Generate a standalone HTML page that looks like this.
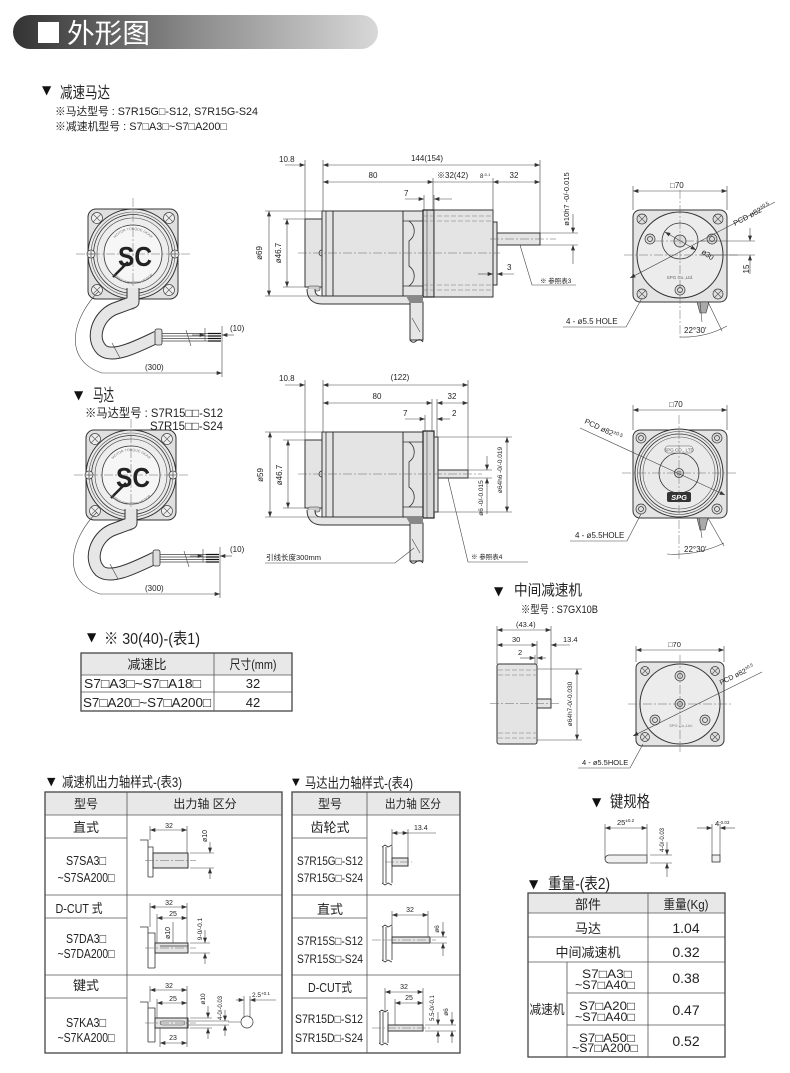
<!DOCTYPE html>
<html><head><meta charset="utf-8"><style>
html,body{margin:0;padding:0;background:#fff}
svg{display:block}
text{font-family:"Liberation Sans","Noto Sans CJK SC",sans-serif;fill:#222}
.tri{font-family:"DejaVu Sans",sans-serif;fill:#111}
.d{stroke:#444;stroke-width:.6;fill:none}
.da{stroke:#444;stroke-width:.6;fill:none;marker-end:url(#ar)}
.db{stroke:#444;stroke-width:.6;fill:none;marker-start:url(#ar);marker-end:url(#ar)}
.cl{stroke:#666;stroke-width:.5;fill:none;stroke-dasharray:9 2 2 2}
.hd{stroke:#777;stroke-width:.6;fill:none;stroke-dasharray:5 2}
.o{stroke:#333;stroke-width:1;fill:#e4e4e4}
.on{stroke:#333;stroke-width:.8;fill:none}
.s{font-size:8px}
.tb{stroke:#444;stroke-width:1.3;fill:none}
.tl{stroke:#555;stroke-width:.8}
</style></head><body>
<svg width="790" height="1073" viewBox="0 0 790 1073" xmlns="http://www.w3.org/2000/svg">
<defs>
<marker id="ar" viewBox="0 0 8 6" refX="8" refY="3" markerWidth="6" markerHeight="4" markerUnits="userSpaceOnUse" orient="auto-start-reverse"><path d="M0,0L8,3L0,6z" fill="#333"/></marker>
<linearGradient id="hg" x1="0" x2="1" y1="0" y2="0"><stop offset="0" stop-color="#333"/><stop offset=".5" stop-color="#8c8c8c"/><stop offset="1" stop-color="#d8d8d8"/></linearGradient>
<path id="arcT" d="M109,254 A24,24 0 0 1 157,254" fill="none"/>
<path id="arcB" d="M106,257 A27,27 0 0 0 160,257" fill="none"/>
</defs>

<!-- HEADER -->
<rect x="13" y="15" width="365" height="34" rx="17" fill="url(#hg)"/>
<rect x="38" y="22" width="21" height="21" fill="#fff"/>
<text x="67" y="43" font-size="27" style="fill:#fff" textLength="83" lengthAdjust="spacingAndGlyphs">外形图</text>

<!-- TOP TITLES -->
<text class="tri" x="42" y="94" font-size="12">▼</text>
<text x="60" y="98" font-size="16" textLength="50" lengthAdjust="spacingAndGlyphs">减速马达</text>
<text x="55" y="115" font-size="11" textLength="203" lengthAdjust="spacingAndGlyphs">※马达型号 : S7R15G□-S12, S7R15G-S24</text>
<text x="55" y="130" font-size="11" textLength="172" lengthAdjust="spacingAndGlyphs">※减速机型号 : S7□A3□~S7□A200□</text>

<!-- FRONT VIEW LEFT (shapes) -->
<g id="fvs">
<rect x="88" y="209" width="90" height="90" rx="8" fill="#e0e0e0" stroke="#333"/>
<g fill="#eee" stroke="#444" stroke-width=".7">
<circle cx="97" cy="218" r="5.5"/><circle cx="169" cy="218" r="5.5"/><circle cx="97" cy="290" r="5.5"/><circle cx="169" cy="290" r="5.5"/>
</g>
<path d="M93,214L101,222M101,214L93,222M165,214L173,222M173,214L165,222M93,286L101,294M101,286L93,294M165,286L173,294M173,286L165,294" stroke="#555" stroke-width=".6"/>
<circle cx="133" cy="254" r="45" fill="#e9e9e9" stroke="#333"/>
<circle cx="133" cy="254" r="42" fill="none" stroke="#555" stroke-width=".6"/>
<circle cx="133" cy="254" r="39.5" fill="none" stroke="#333" stroke-width=".8"/>
<circle cx="133" cy="254" r="36" fill="#ededed" stroke="#444" stroke-width=".6"/>
<circle cx="133" cy="254" r="29" fill="#f6f6f6" stroke="#333" stroke-width=".8"/>
<circle cx="91" cy="254" r="4" fill="#eee" stroke="#333" stroke-width=".7"/>
<circle cx="175" cy="254" r="4" fill="#eee" stroke="#333" stroke-width=".7"/>
<path d="M88,254h6M91,251v6M172,254h6M175,251v6" stroke="#333" stroke-width=".6"/>
<line class="cl" x1="76" y1="254" x2="190" y2="254"/>
<line class="cl" x1="133" y1="198" x2="133" y2="310"/>
<line x1="113" y1="277" x2="128" y2="262" stroke="#222" stroke-width="2.5"/>
</g>
<g id="fcab">
<path d="M133,288 V302 L114,309 C98,316 90,338 102,350 C113,359 138,346 157,337" stroke="#333" stroke-width="13" fill="none" stroke-linejoin="round"/>
<path d="M133,288 V302 L114,309 C98,316 90,338 102,350 C113,359 138,346 157,337" stroke="#e6e6e6" stroke-width="11" fill="none" stroke-linejoin="round"/>
<rect x="155" y="329" width="7" height="16" rx="2" fill="#ddd" stroke="#333" stroke-width=".8"/>
<path d="M162,333.5H220M162,336H220M162,338.5H220M162,341H220" stroke="#444" stroke-width=".7"/>
<path d="M208,333.5H221M208,336H221M208,338.5H221M208,341H221" stroke="#111" stroke-width="1.2"/>
<line class="d" x1="112" y1="343" x2="120" y2="358"/>
<line class="d" x1="186" y1="330" x2="191" y2="346"/>
<path class="da" d="M99,291 C72,318 62,360 102,373 L222,373"/>
<line class="d" x1="222" y1="326" x2="222" y2="377"/>
<line class="d" x1="205" y1="328" x2="205" y2="341"/>
<line class="da" x1="192" y1="335" x2="205" y2="335"/>
<line class="da" x1="234" y1="335" x2="222" y2="335"/>
</g>
<text x="135" y="266" font-size="28" font-weight="bold" text-anchor="middle" textLength="34" lengthAdjust="spacingAndGlyphs">SC</text>
<text font-size="3.6" style="fill:#777"><textPath href="#arcT" startOffset="50%" text-anchor="middle">MOTOR TORQUE GEAR</textPath></text>
<text font-size="3.6" style="fill:#777"><textPath href="#arcB" startOffset="50%" text-anchor="middle">SPEED CONTROL MOTOR</textPath></text>
<text class="s" x="230" y="331">(10)</text>
<text class="s" x="145" y="370">(300)</text>

<!-- TOP SIDE VIEW -->
<g id="body">
<rect class="o" x="305" y="219" width="17" height="68"/>
<path class="on" d="M322,250 a3,3 0 0 0 0,6"/>
<rect class="o" x="322" y="211" width="11" height="85"/>
<line class="on" x1="326" y1="211" x2="326" y2="296" stroke-width=".6"/>
<rect class="o" x="333" y="211" width="70" height="85"/>
<rect class="o" x="403" y="211" width="20" height="85"/>
<path class="on" d="M403,221 H409 C416,226 416,236 409,241 V266 C416,271 416,281 409,286 H403"/>
<path class="on" stroke-width=".6" d="M409,221H423M409,286H423"/>
<rect x="423" y="210" width="11" height="87" fill="#d8d8d8" stroke="#222" stroke-width="1.2"/>
<line x1="427" y1="210" x2="427" y2="297" stroke="#444" stroke-width=".6"/>
</g>
<rect class="o" x="434" y="210" width="59" height="87"/>
<path class="hd" d="M423,216H492M423,221H492M423,285H492M423,290H492"/>
<rect class="o" x="493" y="222" width="4" height="63"/>
<rect class="o" x="497" y="233" width="43" height="12"/>
<line class="cl" x1="298" y1="253" x2="500" y2="253"/>
<line class="cl" x1="490" y1="239" x2="556" y2="239"/>
<g id="scab">
<rect x="308" y="286" width="12" height="5" rx="2" fill="#ccc" stroke="#333" stroke-width=".6"/>
<path d="M311,289 Q311,300 322,300 H413" stroke="#333" stroke-width="9" fill="none"/>
<path d="M311,289 Q311,300 322,300 H413" stroke="#e6e6e6" stroke-width="7" fill="none"/>
<rect x="410" y="302" width="13" height="38" fill="#e6e6e6" stroke="#333"/>
<polygon points="406,296 423,296 423,303 410,303" fill="#888"/>
<path d="M410,340 q3,4 6,1 q4,-3 7,1" fill="none" stroke="#333"/>
<line class="d" x1="412" y1="318" x2="420" y2="332"/>
</g>
<!-- top dims -->
<path class="d" d="M305,160V219M323,160V211M540,160V233M433,178V211M493,178V222M424,195V211M434,195V211"/>
<line class="da" x1="285" y1="165" x2="305" y2="165"/>
<line class="db" x1="323" y1="165" x2="540" y2="165"/>
<text class="s" x="279" y="162">10.8</text>
<text class="s" x="427" y="161" text-anchor="middle">144(154)</text>
<line class="db" x1="323" y1="182" x2="433" y2="182"/>
<line class="d" x1="433" y1="182" x2="493" y2="182"/>
<line class="db" x1="493" y1="182" x2="540" y2="182"/>
<text class="s" x="373" y="178" text-anchor="middle">80</text>
<text class="s" x="437" y="178">※32(42)</text>
<text x="480" y="178" font-size="6">8<tspan font-size="4" dy="-2">-0.1</tspan></text>
<text class="s" x="514" y="178" text-anchor="middle">32</text>
<line class="da" x1="405" y1="199" x2="424" y2="199"/>
<line class="da" x1="452" y1="199" x2="434" y2="199"/>
<text class="s" x="404" y="196">7</text>
<path class="d" d="M265,211H322M265,296H322M283,219H305M283,287H305M540,233H578M540,245H578"/>
<line class="db" x1="269" y1="211" x2="269" y2="296"/>
<line class="db" x1="287" y1="219" x2="287" y2="287"/>
<text class="s" transform="translate(262,253) rotate(-90)" text-anchor="middle">ø69</text>
<text class="s" transform="translate(281,253) rotate(-90)" text-anchor="middle">ø46.7</text>
<line class="da" x1="573" y1="214" x2="573" y2="233"/>
<line class="da" x1="573" y1="264" x2="573" y2="245"/>
<text font-size="7.5" transform="translate(569,199) rotate(-90)" text-anchor="middle">ø10h7 -0/-0.015</text>
<line class="da" x1="478" y1="274" x2="493" y2="274"/>
<line class="da" x1="514" y1="274" x2="497" y2="274"/>
<text class="s" x="507" y="270">3</text>
<polyline class="d" points="520,245 532,285 576,285"/>
<text x="540" y="283" font-size="6.5">※ 参照表3</text>

<!-- TOP RIGHT FRONT VIEW -->
<path class="d" d="M633,186V210M727,186V210"/>
<line class="db" x1="633" y1="191" x2="727" y2="191"/>
<text class="s" x="670" y="188">□70</text>
<rect x="633" y="210" width="94" height="92" rx="7" fill="#e4e4e4" stroke="#333"/>
<circle cx="680" cy="255" r="43" fill="#ececec" stroke="#333"/>
<circle cx="680" cy="241" r="18" fill="none" stroke="#333" stroke-width=".8"/>
<circle cx="680" cy="241" r="6" fill="#ddd" stroke="#333" stroke-width=".8"/>
<g fill="#ddd" stroke="#333" stroke-width=".7">
<circle cx="650" cy="239" r="5"/><circle cx="712" cy="239" r="5"/><circle cx="680" cy="290" r="5"/>
<circle cx="650" cy="239" r="2.5"/><circle cx="712" cy="239" r="2.5"/><circle cx="680" cy="290" r="2.5"/>
<circle cx="642" cy="219" r="5"/><circle cx="718" cy="219" r="5"/><circle cx="642" cy="294" r="5"/><circle cx="718" cy="294" r="5"/>
</g>
<path d="M638,215l8,8M646,215l-8,8M714,215l8,8M722,215l-8,8M638,290l8,8M646,290l-8,8M714,290l8,8M722,290l-8,8" stroke="#555" stroke-width=".6"/>
<line class="cl" x1="680" y1="190" x2="680" y2="340"/>
<line class="cl" x1="624" y1="255" x2="740" y2="255"/>
<line class="cl" x1="655" y1="241" x2="705" y2="241"/>
<line class="da" x1="775" y1="202" x2="630" y2="278"/>
<text x="735" y="226" font-size="7.5" transform="rotate(-28 735 226)">PCD ø82<tspan font-size="5" dy="-3">±0.5</tspan></text>
<line class="db" x1="665" y1="232" x2="696" y2="250"/>
<text x="701" y="253" font-size="7.5" transform="rotate(35 701 253)">ø30</text>
<path class="d" d="M700,241H755M700,255H755"/>
<line class="da" x1="750" y1="228" x2="750" y2="241"/>
<line class="da" x1="750" y1="274" x2="750" y2="255"/>
<text class="s" transform="translate(749,269) rotate(-90)" text-anchor="middle">15</text>
<text x="680" y="279" font-size="4.5" text-anchor="middle" style="fill:#666">SPG Co.,Ltd.</text>
<polygon points="697,302 709,302 706,313 700,313" fill="#aaa" stroke="#333" stroke-width=".6"/>
<path class="d" d="M700,302L702,322M708,302L722,331"/>
<path class="d" d="M680,337 Q705,338 727,326"/>
<text class="s" x="684" y="333">22°30'</text>
<polyline class="d" points="642,298 626,327 563,327"/>
<text class="s" x="566" y="324">4 - ø5.5 HOLE</text>

<!-- MIDDLE SECTION TITLES -->
<text class="tri" x="74" y="399" font-size="12">▼</text>
<text x="93" y="401" font-size="17" textLength="21" lengthAdjust="spacingAndGlyphs">马达</text>
<text x="85" y="417" font-size="12" textLength="138" lengthAdjust="spacingAndGlyphs">※马达型号 : S7R15□□-S12</text>
<text x="150" y="430" font-size="12" textLength="73" lengthAdjust="spacingAndGlyphs">S7R15□□-S24</text>

<!-- MIDDLE LEFT FRONT VIEW -->
<g transform="translate(-2,221)">
<use href="#fvs"/>
<use href="#fcab"/>
<text x="135" y="266" font-size="28" font-weight="bold" text-anchor="middle" textLength="34" lengthAdjust="spacingAndGlyphs">SC</text>
<text font-size="3.6" style="fill:#777"><textPath href="#arcT" startOffset="50%" text-anchor="middle">MOTOR TORQUE GEAR</textPath></text>
<text font-size="3.6" style="fill:#777"><textPath href="#arcB" startOffset="50%" text-anchor="middle">SPEED CONTROL MOTOR</textPath></text>
<text class="s" x="232" y="331">(10)</text>
<text class="s" x="147" y="370">(300)</text>
</g>

<!-- MIDDLE SIDE VIEW -->
<use href="#body" y="221"/>
<rect class="o" x="434" y="437" width="4" height="75"/>
<rect class="o" x="438" y="470" width="30" height="8"/>
<line class="cl" x1="298" y1="474" x2="482" y2="474"/>
<use href="#scab" y="221"/>
<path class="d" d="M305,380V440M323,380V432M468,380V470M432,399V432M437,399V437M425,415V432"/>
<line class="da" x1="285" y1="385" x2="305" y2="385"/>
<line class="db" x1="323" y1="385" x2="468" y2="385"/>
<text class="s" x="279" y="381">10.8</text>
<text class="s" x="400" y="380" text-anchor="middle">(122)</text>
<line class="db" x1="323" y1="403" x2="432" y2="403"/>
<line class="db" x1="437" y1="403" x2="468" y2="403"/>
<text class="s" x="377" y="399" text-anchor="middle">80</text>
<text class="s" x="452" y="399" text-anchor="middle">32</text>
<line class="da" x1="405" y1="419" x2="425" y2="419"/>
<line class="da" x1="450" y1="419" x2="437" y2="419"/>
<text class="s" x="403" y="416">7</text>
<text class="s" x="452" y="416">2</text>
<path class="d" d="M265,432H322M265,517H322M283,440H305M283,508H305"/>
<line class="db" x1="270" y1="432" x2="270" y2="517"/>
<line class="db" x1="288" y1="440" x2="288" y2="508"/>
<text class="s" transform="translate(263,475) rotate(-90)" text-anchor="middle">ø59</text>
<text class="s" transform="translate(282,475) rotate(-90)" text-anchor="middle">ø46.7</text>
<path class="d" d="M468,470H492M468,478H492M437,437H512M437,512H512"/>
<line class="da" x1="487" y1="456" x2="487" y2="470"/>
<line class="da" x1="487" y1="514" x2="487" y2="478"/>
<line class="db" x1="507" y1="437" x2="507" y2="512"/>
<text font-size="6.5" transform="translate(483,498) rotate(-90)" text-anchor="middle">ø6 -0/-0.015</text>
<text font-size="6.5" transform="translate(502,470) rotate(-90)" text-anchor="middle">ø64h6 -0/-0.019</text>
<polyline class="d" points="448,478 468,562 528,562"/>
<text x="471" y="559" font-size="6.5">※ 参照表4</text>
<polyline class="d" points="265,563 395,563 414,548"/>
<text x="266" y="560" font-size="7.5">引线长度300mm</text>

<!-- MIDDLE RIGHT FRONT VIEW -->
<path class="d" d="M633,405V430M727,405V430"/>
<line class="db" x1="633" y1="410" x2="727" y2="410"/>
<text class="s" x="669" y="407">□70</text>
<rect x="633" y="430" width="94" height="88" rx="7" fill="#e4e4e4" stroke="#333"/>
<circle cx="679" cy="473" r="44" fill="#eaeaea" stroke="#333"/>
<circle cx="679" cy="473" r="41.5" fill="none" stroke="#444" stroke-width=".6"/>
<circle cx="679" cy="473" r="39" fill="none" stroke="#333" stroke-width=".8"/>
<circle cx="679" cy="473" r="36" fill="none" stroke="#555" stroke-width=".6"/>
<circle cx="679" cy="473" r="20" fill="#e8e8e8" stroke="#333" stroke-width=".8"/>
<circle cx="679" cy="473" r="4.5" fill="#ddd" stroke="#333" stroke-width=".8"/>
<circle cx="679" cy="473" r="2" fill="none" stroke="#333" stroke-width=".6"/>
<g fill="#ddd" stroke="#333" stroke-width=".7">
<circle cx="641" cy="438" r="5"/><circle cx="717" cy="438" r="5"/><circle cx="641" cy="509" r="5"/><circle cx="717" cy="509" r="5"/>
<circle cx="641" cy="438" r="2.5"/><circle cx="717" cy="438" r="2.5"/><circle cx="641" cy="509" r="2.5"/><circle cx="717" cy="509" r="2.5"/>
</g>
<rect x="665" y="446" width="28" height="7" rx="3" fill="#f2f2f2" stroke="#555" stroke-width=".5"/>
<text x="679" y="451.5" font-size="4.5" text-anchor="middle" style="fill:#555">SPG CO., LTD</text>
<rect x="667" y="492" width="24" height="10" rx="2" fill="#333"/>
<text x="679" y="500" font-size="7.5" font-weight="bold" font-style="italic" text-anchor="middle" style="fill:#fff">SPG</text>
<line class="cl" x1="679" y1="415" x2="679" y2="560"/>
<line class="cl" x1="622" y1="473" x2="737" y2="473"/>
<line class="da" x1="580" y1="428" x2="725" y2="495"/>
<text x="584" y="423" font-size="7.5" transform="rotate(25 584 423)">PCD ø82<tspan font-size="5" dy="-3">±0.5</tspan></text>
<polyline class="d" points="641,514 627,541 570,541"/>
<text class="s" x="575" y="538">4 - ø5.5HOLE</text>
<polygon points="697,518 708,518 705,530 700,530" fill="#aaa" stroke="#333" stroke-width=".6"/>
<path class="d" d="M699,518L702,538M708,518L724,546"/>
<path class="d" d="M667,554 Q697,556 724,543"/>
<text class="s" x="684" y="552">22°30'</text>

<!-- 中间减速机 -->
<text class="tri" x="494" y="595" font-size="12">▼</text>
<text x="514" y="595" font-size="15" textLength="68" lengthAdjust="spacingAndGlyphs">中间减速机</text>
<text x="521" y="613" font-size="11" textLength="77" lengthAdjust="spacingAndGlyphs">※型号 : S7GX10B</text>
<path class="d" d="M497,626V664M551,626V699M537,641V664M535,655V699"/>
<line class="db" x1="497" y1="630" x2="551" y2="630"/>
<text font-size="7.5" x="516" y="627">(43.4)</text>
<line class="db" x1="497" y1="645" x2="537" y2="645"/>
<line class="da" x1="570" y1="645" x2="551" y2="645"/>
<text font-size="7.5" x="512" y="642">30</text>
<text font-size="7.5" x="563" y="642">13.4</text>
<line class="da" x1="520" y1="658" x2="535" y2="658"/>
<line class="da" x1="546" y1="658" x2="537" y2="658"/>
<text font-size="7.5" x="518" y="655">2</text>
<rect class="o" x="497" y="664" width="40" height="80" rx="2"/>
<path class="hd" d="M498,670H536M498,675H536M498,733H536M498,738H536"/>
<rect class="o" x="537" y="699" width="14" height="9"/>
<line class="cl" x1="490" y1="703.5" x2="560" y2="703.5"/>
<path class="d" d="M537,669H582M537,740H582"/>
<line class="db" x1="577" y1="669" x2="577" y2="740"/>
<text font-size="6.5" transform="translate(572,704) rotate(-90)" text-anchor="middle">ø64h7-0/-0.030</text>
<path class="d" d="M636,646V662M724,646V662"/>
<line class="db" x1="636" y1="650" x2="724" y2="650"/>
<text font-size="7.5" x="668" y="647">□70</text>
<rect x="636" y="662" width="88" height="84" rx="6" fill="#e4e4e4" stroke="#333"/>
<circle cx="680" cy="704" r="40" fill="#ececec" stroke="#333"/>
<g fill="#ddd" stroke="#333" stroke-width=".7">
<circle cx="680" cy="676" r="5"/><circle cx="655" cy="720" r="5"/><circle cx="705" cy="720" r="5"/><circle cx="680" cy="704" r="5"/>
<circle cx="680" cy="676" r="2.5"/><circle cx="655" cy="720" r="2.5"/><circle cx="705" cy="720" r="2.5"/><circle cx="680" cy="704" r="2.5"/>
<circle cx="645" cy="671" r="4.5"/><circle cx="715" cy="671" r="4.5"/><circle cx="645" cy="737" r="4.5"/><circle cx="715" cy="737" r="4.5"/>
</g>
<path d="M641.5,667.5l7,7M648.5,667.5l-7,7M711.5,667.5l7,7M718.5,667.5l-7,7M641.5,733.5l7,7M648.5,733.5l-7,7M711.5,733.5l7,7M718.5,733.5l-7,7" stroke="#555" stroke-width=".6"/>
<line class="cl" x1="680" y1="655" x2="680" y2="752"/>
<line class="cl" x1="628" y1="704" x2="732" y2="704"/>
<line class="da" x1="762" y1="672" x2="633" y2="736"/>
<text x="721" y="685" font-size="7" transform="rotate(-26 721 685)">PCD ø82<tspan font-size="4.5" dy="-3">±0.5</tspan></text>
<text x="681" y="727" font-size="4" text-anchor="middle" style="fill:#777">SPG Co.,Ltd.</text>
<polyline class="d" points="643,744 630,768 578,768"/>
<text font-size="7.5" x="582" y="765">4 - ø5.5HOLE</text>

<!-- TABLE 1 -->
<text class="tri" x="87" y="641" font-size="12">▼</text>
<text x="104" y="644" font-size="16" textLength="96" lengthAdjust="spacingAndGlyphs">※ 30(40)-(表1)</text>
<rect x="81" y="653" width="211" height="22" fill="#e8e8e8"/>
<rect class="tb" x="81" y="653" width="211" height="58"/>
<path class="tl" d="M81,675H292M81,692H292M214,653V711"/>
<text x="147" y="669" font-size="13" text-anchor="middle">减速比</text>
<text x="253" y="669" font-size="13" text-anchor="middle" textLength="47" lengthAdjust="spacingAndGlyphs">尺寸(mm)</text>
<text x="84" y="688" font-size="13" textLength="117" lengthAdjust="spacingAndGlyphs">S7□A3□~S7□A18□</text>
<text x="253" y="688" font-size="13" text-anchor="middle">32</text>
<text x="83" y="707" font-size="13" textLength="128" lengthAdjust="spacingAndGlyphs">S7□A20□~S7□A200□</text>
<text x="253" y="707" font-size="13" text-anchor="middle">42</text>

<!-- TABLE 3 -->
<text class="tri" x="47" y="785" font-size="11">▼</text>
<text x="62" y="787" font-size="14" textLength="120" lengthAdjust="spacingAndGlyphs">减速机出力轴样式-(表3)</text>
<rect x="45" y="792" width="237" height="23" fill="#e8e8e8"/>
<rect class="tb" x="45" y="792" width="237" height="261"/>
<path class="tl" d="M45,815H282M45,838H127M45,895H282M45,918H127M45,975H282M45,998H127M127,792V1053"/>
<text x="86" y="808" font-size="12" text-anchor="middle">型号</text>
<text x="205" y="808" font-size="12" text-anchor="middle">出力轴 区分</text>
<text x="86" y="832" font-size="13" text-anchor="middle">直式</text>
<text x="86" y="865" font-size="13" text-anchor="middle" textLength="40" lengthAdjust="spacingAndGlyphs">S7SA3□</text>
<text x="86" y="882" font-size="13" text-anchor="middle" textLength="57" lengthAdjust="spacingAndGlyphs">~S7SA200□</text>
<text x="79" y="913" font-size="13" text-anchor="middle" textLength="47" lengthAdjust="spacingAndGlyphs">D-CUT 式</text>
<text x="86" y="943" font-size="13" text-anchor="middle" textLength="40" lengthAdjust="spacingAndGlyphs">S7DA3□</text>
<text x="86" y="958" font-size="13" text-anchor="middle" textLength="57" lengthAdjust="spacingAndGlyphs">~S7DA200□</text>
<text x="86" y="990" font-size="13" text-anchor="middle">键式</text>
<text x="86" y="1027" font-size="13" text-anchor="middle" textLength="40" lengthAdjust="spacingAndGlyphs">S7KA3□</text>
<text x="86" y="1042" font-size="13" text-anchor="middle" textLength="57" lengthAdjust="spacingAndGlyphs">~S7KA200□</text>
<!-- row1 straight -->
<path class="on" d="M140,840H148V877M148,847H153V877M148,877H153"/>
<rect class="o" x="153" y="853" width="35" height="15" stroke-width=".8"/>
<line class="cl" x1="145" y1="860.5" x2="196" y2="860.5"/>
<path class="d" d="M150,826V840M187,826V853M190,853H214M190,868H214"/>
<line class="db" x1="150" y1="830" x2="187" y2="830"/>
<text font-size="7" x="169" y="828" text-anchor="middle">32</text>
<line class="da" x1="210" y1="842" x2="210" y2="853"/>
<line class="da" x1="210" y1="879" x2="210" y2="868"/>
<text font-size="7" transform="translate(207,836) rotate(-90)" text-anchor="middle">ø10</text>
<!-- row2 dcut -->
<path class="on" d="M140,927H148V968M148,933H155V968M148,968H155"/>
<rect class="o" x="155" y="943" width="33" height="10" stroke-width=".8"/>
<line class="on" x1="160" y1="946" x2="188" y2="946" stroke-width=".5"/>
<line class="cl" x1="145" y1="948" x2="196" y2="948"/>
<path class="d" d="M150,903V927M187,903V943M157,914V943M190,943H210M190,953H210M173,922V943"/>
<line class="db" x1="150" y1="907" x2="187" y2="907"/>
<line class="db" x1="157" y1="918" x2="187" y2="918"/>
<text font-size="7" x="169" y="905" text-anchor="middle">32</text>
<text font-size="7" x="173" y="916" text-anchor="middle">25</text>
<text font-size="7" transform="translate(170,933) rotate(-90)" text-anchor="middle">ø10</text>
<line class="da" x1="205" y1="930" x2="205" y2="943"/>
<line class="da" x1="205" y1="964" x2="205" y2="953"/>
<text font-size="6.5" transform="translate(202,929) rotate(-90)" text-anchor="middle">9-0/-0.1</text>
<!-- row3 key -->
<path class="on" d="M140,1002H148V1042M148,1008H155V1042M148,1042H155"/>
<rect class="o" x="155" y="1018" width="33" height="10" stroke-width=".8"/>
<rect x="160" y="1021" width="25" height="4" rx="2" fill="none" stroke="#333" stroke-width=".5"/>
<line class="cl" x1="145" y1="1023" x2="196" y2="1023"/>
<path class="d" d="M150,986V1002M187,986V1047M157,999V1018M160,1028V1047M190,1018H212M190,1028H212M188,1021H229M188,1025H229"/>
<line class="db" x1="150" y1="990" x2="187" y2="990"/>
<line class="db" x1="157" y1="1003" x2="187" y2="1003"/>
<line class="db" x1="160" y1="1043" x2="187" y2="1043"/>
<text font-size="7" x="169" y="988" text-anchor="middle">32</text>
<text font-size="7" x="173" y="1001" text-anchor="middle">25</text>
<text font-size="7" x="173" y="1040" text-anchor="middle">23</text>
<line class="da" x1="208" y1="1006" x2="208" y2="1018"/>
<line class="da" x1="208" y1="1039" x2="208" y2="1028"/>
<text font-size="6.5" transform="translate(205,999) rotate(-90)" text-anchor="middle">ø10</text>
<line class="da" x1="225" y1="1010" x2="225" y2="1021"/>
<line class="da" x1="225" y1="1036" x2="225" y2="1025"/>
<text font-size="6" transform="translate(222,1008) rotate(-90)" text-anchor="middle">4-0/-0.03</text>
<circle cx="247" cy="1022" r="6" fill="none" stroke="#333" stroke-width=".7"/>
<path class="d" d="M244,996V1018M250,996V1018M228,1022H241"/>
<line class="da" x1="236" y1="1000" x2="244" y2="1000"/>
<line class="da" x1="276" y1="1000" x2="250" y2="1000"/>
<text font-size="6.5" x="252" y="997">2.5<tspan font-size="4.5" dy="-2">+0.1</tspan></text>

<!-- TABLE 4 -->
<text class="tri" x="292" y="785" font-size="10">▼</text>
<text x="305" y="788" font-size="14" textLength="108" lengthAdjust="spacingAndGlyphs">马达出力轴样式-(表4)</text>
<rect x="292" y="792" width="168" height="23" fill="#e8e8e8"/>
<rect class="tb" x="292" y="792" width="168" height="261"/>
<path class="tl" d="M292,815H460M292,838H367M292,895H460M292,918H367M292,975H460M292,998H367M367,792V1053"/>
<text x="330" y="808" font-size="12" text-anchor="middle">型号</text>
<text x="413" y="808" font-size="12" text-anchor="middle" textLength="56" lengthAdjust="spacingAndGlyphs">出力轴 区分</text>
<text x="330" y="832" font-size="13" text-anchor="middle">齿轮式</text>
<text x="330" y="865" font-size="12" text-anchor="middle" textLength="66" lengthAdjust="spacingAndGlyphs">S7R15G□-S12</text>
<text x="330" y="882" font-size="12" text-anchor="middle" textLength="66" lengthAdjust="spacingAndGlyphs">S7R15G□-S24</text>
<text x="330" y="914" font-size="13" text-anchor="middle">直式</text>
<text x="330" y="945" font-size="12" text-anchor="middle" textLength="66" lengthAdjust="spacingAndGlyphs">S7R15S□-S12</text>
<text x="330" y="963" font-size="12" text-anchor="middle" textLength="66" lengthAdjust="spacingAndGlyphs">S7R15S□-S24</text>
<text x="330" y="992" font-size="13" text-anchor="middle" textLength="44" lengthAdjust="spacingAndGlyphs">D-CUT式</text>
<text x="329" y="1023" font-size="12" text-anchor="middle" textLength="68" lengthAdjust="spacingAndGlyphs">S7R15D□-S12</text>
<text x="329" y="1042" font-size="12" text-anchor="middle" textLength="68" lengthAdjust="spacingAndGlyphs">S7R15D□-S24</text>
<!-- gear -->
<path class="on" d="M383,847V883M386,847V883M392,847V883M382,847l3,-2l3,2l4,-2M382,883l3,2l3,-2l4,2"/>
<rect class="o" x="392" y="858" width="16" height="8" stroke-width=".8"/>
<line class="cl" x1="385" y1="862" x2="412" y2="862"/>
<path class="d" d="M392,829V847M408,829V858M408,833H436"/>
<line class="db" x1="392" y1="833" x2="408" y2="833"/>
<text font-size="7" x="414" y="830">13.4</text>
<!-- straight -->
<path class="on" d="M383,927V960M386,927V960M392,927V960M382,927l3,-2l3,2l4,-2M382,960l3,2l3,-2l4,2"/>
<rect class="o" x="392" y="937" width="38" height="6" stroke-width=".8"/>
<line class="cl" x1="372" y1="940" x2="436" y2="940"/>
<path class="d" d="M392,911V927M428,911V937M431,937H447M431,943H447"/>
<line class="db" x1="392" y1="915" x2="428" y2="915"/>
<text font-size="7" x="410" y="912" text-anchor="middle">32</text>
<line class="da" x1="443" y1="922" x2="443" y2="937"/>
<line class="da" x1="443" y1="956" x2="443" y2="943"/>
<text font-size="6.5" transform="translate(439,929) rotate(-90)" text-anchor="middle">ø6</text>
<!-- dcut -->
<path class="on" d="M380,1012V1043M383,1012V1043M388,1012V1043M379,1012l3,-2l3,2l3,-2M379,1043l3,2l3,-2l3,2"/>
<rect class="o" x="388" y="1025" width="35" height="6" stroke-width=".8"/>
<line class="cl" x1="372" y1="1028" x2="430" y2="1028"/>
<path class="d" d="M385,988V1012M395,999V1025M423,988V1025M425,1025H456M425,1031H456"/>
<line class="db" x1="385" y1="992" x2="423" y2="992"/>
<line class="db" x1="395" y1="1003" x2="423" y2="1003"/>
<text font-size="7" x="404" y="989" text-anchor="middle">32</text>
<text font-size="7" x="409" y="1000" text-anchor="middle">25</text>
<line class="da" x1="438" y1="1012" x2="438" y2="1025"/>
<line class="da" x1="438" y1="1043" x2="438" y2="1031"/>
<line class="da" x1="452" y1="1012" x2="452" y2="1025"/>
<line class="da" x1="452" y1="1043" x2="452" y2="1031"/>
<text font-size="6" transform="translate(434,1008) rotate(-90)" text-anchor="middle">5.5-0/-0.1</text>
<text font-size="6.5" transform="translate(448,1012) rotate(-90)" text-anchor="middle">ø6</text>

<!-- KEY SPEC -->
<text class="tri" x="592" y="806" font-size="12">▼</text>
<text x="610" y="807" font-size="16" textLength="40" lengthAdjust="spacingAndGlyphs">键规格</text>
<path d="M609,855 L647,855 L647,863 L609,863 A4,4 0 0 1 609,855Z" fill="#f0f0f0" stroke="#333" stroke-width=".8"/>
<path class="d" d="M605,824V858M647,824V855M650,855H672M650,863H672"/>
<line class="db" x1="605" y1="828" x2="647" y2="828"/>
<text font-size="7.5" x="617" y="825">25<tspan font-size="4.5" dy="-3">±0.2</tspan></text>
<line class="da" x1="667" y1="842" x2="667" y2="855"/>
<line class="da" x1="667" y1="877" x2="667" y2="863"/>
<text font-size="6" transform="translate(664,840) rotate(-90)" text-anchor="middle">4-0/-0.03</text>
<rect x="712" y="855" width="8" height="7" fill="#f0f0f0" stroke="#333" stroke-width=".8"/>
<path class="d" d="M712,824V855M720,824V855"/>
<line class="da" x1="697" y1="828" x2="712" y2="828"/>
<line class="da" x1="735" y1="828" x2="720" y2="828"/>
<text font-size="7.5" x="715" y="826">4<tspan font-size="4.5" dy="-2">-0.03</tspan></text>

<!-- TABLE 2 -->
<text class="tri" x="529" y="888" font-size="12">▼</text>
<text x="548" y="889" font-size="16" textLength="62" lengthAdjust="spacingAndGlyphs">重量-(表2)</text>
<rect x="528" y="893" width="197" height="20" fill="#e8e8e8"/>
<rect class="tb" x="528" y="893" width="197" height="164"/>
<path class="tl" d="M528,913H725M528,937H725M528,962H725M567,993H725M567,1025H725M648,893V1057M567,962V1057"/>
<text x="588" y="909" font-size="13" text-anchor="middle">部件</text>
<text x="686" y="909" font-size="13" text-anchor="middle" textLength="45" lengthAdjust="spacingAndGlyphs">重量(Kg)</text>
<text x="588" y="933" font-size="13" text-anchor="middle">马达</text>
<text x="686" y="933" font-size="14" text-anchor="middle">1.04</text>
<text x="588" y="957" font-size="13" text-anchor="middle">中间减速机</text>
<text x="686" y="957" font-size="14" text-anchor="middle">0.32</text>
<text x="547" y="1014" font-size="13" text-anchor="middle" textLength="35" lengthAdjust="spacingAndGlyphs">减速机</text>
<text x="607" y="978" font-size="12" text-anchor="middle" textLength="50" lengthAdjust="spacingAndGlyphs">S7□A3□</text>
<text x="605" y="989" font-size="12" text-anchor="middle" textLength="60" lengthAdjust="spacingAndGlyphs">~S7□A40□</text>
<text x="686" y="983" font-size="14" text-anchor="middle">0.38</text>
<text x="607" y="1010" font-size="12" text-anchor="middle" textLength="56" lengthAdjust="spacingAndGlyphs">S7□A20□</text>
<text x="605" y="1021" font-size="12" text-anchor="middle" textLength="60" lengthAdjust="spacingAndGlyphs">~S7□A40□</text>
<text x="686" y="1015" font-size="14" text-anchor="middle">0.47</text>
<text x="607" y="1042" font-size="12" text-anchor="middle" textLength="56" lengthAdjust="spacingAndGlyphs">S7□A50□</text>
<text x="605" y="1052" font-size="12" text-anchor="middle" textLength="66" lengthAdjust="spacingAndGlyphs">~S7□A200□</text>
<text x="686" y="1046" font-size="14" text-anchor="middle">0.52</text>
</svg>
</body></html>
